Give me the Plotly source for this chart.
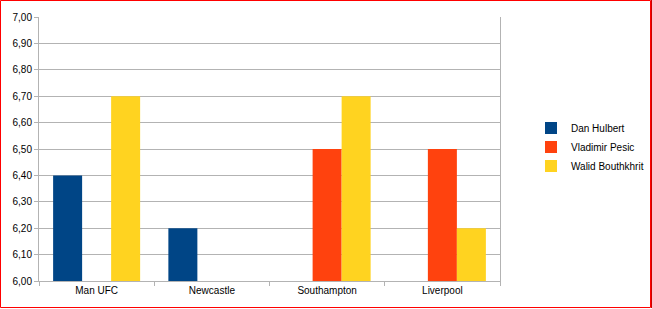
import plotly.graph_objects as go

categories = ["Man UFC", "Newcastle", "Southampton", "Liverpool"]
series_names = ["Dan Hulbert", "Vladimir Pesic", "Walid Bouthkhrit"]
dan = [6.40, 6.20, None, None]
vladimir = [None, None, 6.50, 6.50]
walid = [6.70, None, 6.70, 6.20]
colors = ["#004586", "#ff420e", "#ffd320"]
ytick_vals = [6.0, 6.1, 6.2, 6.3, 6.4, 6.5, 6.6, 6.7, 6.8, 6.9, 7.0]

W, H = 652, 309
ML, MR, MT, MB = 39, 152, 17, 28
PW, PH = W - ML - MR, H - MT - MB

fig = go.Figure()
for name, vals, c in zip(series_names, [dan, vladimir, walid], colors):
    fig.add_trace(go.Bar(x=categories, y=[None if v is None else v - 6.0 for v in vals],
                         base=6.0, name=name, marker=dict(color=c, line=dict(width=0))))

def px(x):
    return (x - ML) / PW

def py(y):
    return (H - MB - y) / PH

fig.update_layout(
    width=W, height=H,
    margin=dict(l=ML, r=MR, t=MT, b=MB, autoexpand=False),
    paper_bgcolor="white", plot_bgcolor="white",
    barmode="group", bargap=0.245, bargroupgap=0,
    separators=", ",
    font=dict(family="Liberation Sans, Arial, sans-serif", size=10, color="#000000"),
    showlegend=True,
    legend=dict(x=px(531), y=py(147), xanchor="left", yanchor="middle",
                font=dict(size=10), itemwidth=30, tracegroupgap=0,
                bgcolor="rgba(0,0,0,0)"),
    xaxis=dict(type="category", showline=True, linecolor="#b3b3b3", linewidth=1,
               ticks="outside", tickson="boundaries", ticklen=4, tickcolor="#b3b3b3",
               showgrid=False, tickfont=dict(size=10)),
    yaxis=dict(range=[6.0, 7.0], tickvals=ytick_vals, tickformat=".2f",
               showgrid=True, gridcolor="#b3b3b3", gridwidth=1,
               showline=True, linecolor="#b3b3b3", linewidth=1, mirror=True,
               ticks="outside", ticklen=4, tickcolor="#b3b3b3", zeroline=False,
               tickfont=dict(size=10)),
    shapes=[dict(type="rect", xref="paper", yref="paper",
                 x0=px(0.5), x1=px(650.5), y0=py(0.5), y1=py(307.5),
                 line=dict(color="#ff0000", width=1), layer="above"),
            dict(type="line", xref="paper", yref="paper",
                 x0=px(651.5), x1=px(651.5), y0=py(0), y1=py(308),
                 line=dict(color="#cc0000", width=1), layer="above")],
)

fig.write_html("out.html")
